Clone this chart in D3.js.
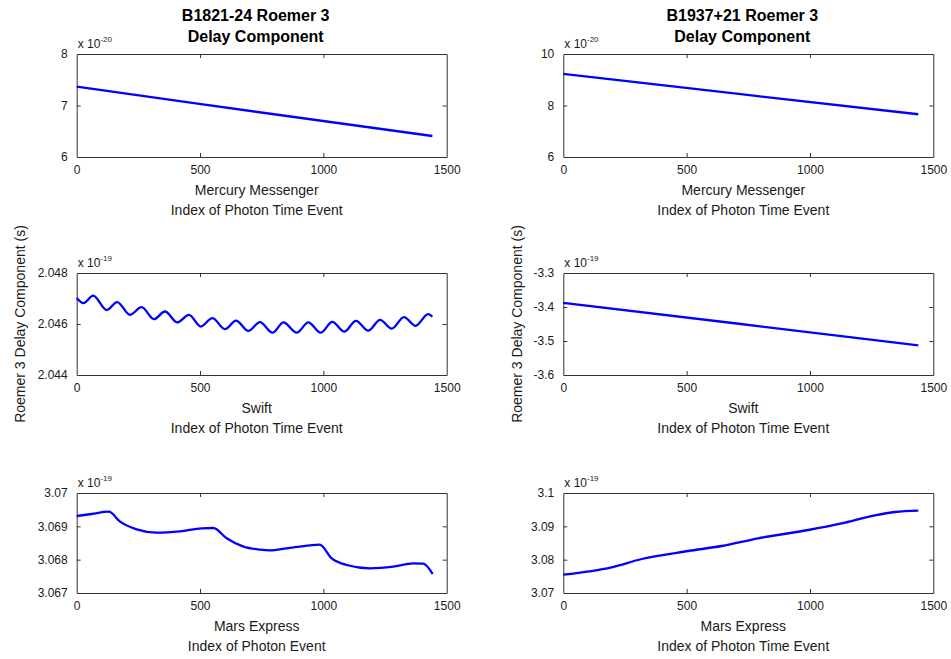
<!DOCTYPE html>
<html>
<head>
<meta charset="utf-8">
<script src="https://cdn.jsdelivr.net/npm/d3@7"></script>
<style>
  body { margin: 0; background: #fff; }
  svg { display: block; font-family: "Liberation Sans", Arial, sans-serif; }
  .tick text { font-size: 12px; fill: #1a1a1a; }
</style>
</head>
<body>
<svg width="951" height="659"></svg>
<script>
// x ticks shared by every panel
var xTicks = [0, 500, 1000, 1500];

// Mercury Messenger (x 1e-20)
var mercLeftIdx = [0, 497, 1442];
var mercLeftVal = [7.365, 7.03, 6.408];
var mercRightIdx = [0, 720, 1439];
var mercRightVal = [9.225, 8.44, 7.66];

// Swift (x 1e-19)
var swiftLeftIdx = [0, 27, 67, 122, 164, 216, 263, 313, 358, 408, 455, 503, 550, 601, 646, 696, 743,
    794, 838, 892, 939, 989, 1036, 1085, 1132, 1182, 1230, 1277, 1327, 1374, 1425, 1442];
var swiftLeftVal = [2.04702, 2.04682, 2.04711, 2.04655, 2.04686, 2.04636, 2.04666, 2.04619, 2.04649,
    2.04606, 2.04636, 2.04590, 2.04623, 2.04580, 2.04613, 2.04573, 2.04607, 2.04566, 2.04606,
    2.04566, 2.04606, 2.04566, 2.04608, 2.04570, 2.04612, 2.04574, 2.04616, 2.04582, 2.04627,
    2.04593, 2.04639, 2.04629];
var swiftRightIdx = [0, 720, 1439];
var swiftRightVal = [-3.388, -3.450, -3.513];

// Mars Express (x 1e-19)
var marsLeftIdx = [0, 60, 130, 176, 243, 324, 419, 507, 554, 608, 676, 743, 784, 851, 946, 985,
    1034, 1094, 1189, 1283, 1365, 1405, 1443];
var marsLeftVal = [3.06931, 3.06937, 3.06944, 3.06914, 3.06891, 3.06881, 3.06885, 3.06894, 3.06895,
    3.06864, 3.06839, 3.06830, 3.06828, 3.06834, 3.06843, 3.06845, 3.06804, 3.06784, 3.06774,
    3.06779, 3.06789, 3.06788, 3.06757];
var marsRightIdx = [0, 196, 318, 507, 642, 790, 993, 1128, 1263, 1345, 1439];
var marsRightVal = [3.0755, 3.0777, 3.0802, 3.0826, 3.0841, 3.0864, 3.0889, 3.0909, 3.0933, 3.0943, 3.0947];

// y ticks
var mercLeftTicks = [6, 7, 8];
var mercRightTicks = [6, 8, 10];
var swiftLeftTicks = [2.044, 2.046, 2.048];
var swiftRightTicks = [-3.6, -3.5, -3.4, -3.3];
var marsLeftTicks = [3.067, 3.068, 3.069, 3.07];
var marsRightTicks = [3.07, 3.08, 3.09, 3.1];

var titles = ['B1821-24 Roemer 3', 'B1937+21 Roemer 3'];
var yLabel = 'Roemer 3 Delay Component (s)';

var svg = d3.select('svg');
var colX = [76.7, 563.3];
var plotW = 370;
var rowY = [54, 273, 493];
var rowH = [103, 102, 100];

function zip(a, b) { return a.map(function(d, i) { return [d, b[i]]; }); }

var panels = [
  { col: 0, row: 0, data: zip(mercLeftIdx, mercLeftVal), ticks: mercLeftTicks, dom: [6, 8], exp: '-20',
    xl: ['Mercury Messenger', 'Index of Photon Time Event'] },
  { col: 1, row: 0, data: zip(mercRightIdx, mercRightVal), ticks: mercRightTicks, dom: [6, 10], exp: '-20',
    xl: ['Mercury Messenger', 'Index of Photon Time Event'] },
  { col: 0, row: 1, data: zip(swiftLeftIdx, swiftLeftVal), ticks: swiftLeftTicks, dom: [2.044, 2.048], exp: '-19',
    xl: ['Swift', 'Index of Photon Time Event'] },
  { col: 1, row: 1, data: zip(swiftRightIdx, swiftRightVal), ticks: swiftRightTicks, dom: [-3.6, -3.3], exp: '-19',
    xl: ['Swift', 'Index of Photon Time Event'] },
  { col: 0, row: 2, data: zip(marsLeftIdx, marsLeftVal), ticks: marsLeftTicks, dom: [3.067, 3.07], exp: '-19',
    xl: ['Mars Express', 'Index of Photon Event'] },
  { col: 1, row: 2, data: zip(marsRightIdx, marsRightVal), ticks: marsRightTicks, dom: [3.07, 3.1], exp: '-19',
    xl: ['Mars Express', 'Index of Photon Time Event'] }
];

panels.forEach(function(p) {
  var h = rowH[p.row];
  var g = svg.append('g')
    .attr('transform', 'translate(' + [colX[p.col], rowY[p.row]] + ')');

  var x = d3.scaleLinear().domain([0, 1500]).range([0, plotW]);
  var y = d3.scaleLinear().domain(p.dom).range([h, 0]);

  // box with inward ticks on all four sides
  g.append('g').attr('transform', 'translate(0,' + h + ')')
    .call(d3.axisBottom(x).tickValues(xTicks).tickSizeInner(-4).tickSizeOuter(0).tickPadding(8)
      .tickFormat(d3.format('d')));
  g.append('g')
    .call(d3.axisTop(x).tickValues(xTicks).tickSizeInner(-4).tickSizeOuter(0).tickFormat(''));
  g.append('g')
    .call(d3.axisLeft(y).tickValues(p.ticks).tickSizeInner(-4).tickSizeOuter(0).tickPadding(9)
      .tickFormat(function(d) { return String(+d.toFixed(4)); }));
  g.append('g').attr('transform', 'translate(' + plotW + ',0)')
    .call(d3.axisRight(y).tickValues(p.ticks).tickSizeInner(-4).tickSizeOuter(0).tickFormat(''));
  g.selectAll('.domain').attr('stroke', '#333');
  g.selectAll('.tick line').attr('stroke', '#333');
  g.selectAll('.tick').filter(function(d) { return d === 0 || d === 1500; }).select('line').remove();
  g.selectAll('.tick').filter(function(d) { return d === p.dom[0] || d === p.dom[1]; }).select('line').remove();

  g.append('path')
    .datum(p.data)
    .attr('fill', 'none')
    .attr('stroke', '#0000ff')
    .attr('stroke-width', 2.3)
    .attr('stroke-linejoin', 'round')
    .attr('d', d3.line()
      .x(function(d) { return x(d[0]); })
      .y(function(d) { return y(d[1]); })
      .curve(d3.curveMonotoneX));

  // exponent label
  var ex = g.append('text').attr('x', 1).attr('y', -6).attr('font-size', 12).attr('fill', '#1a1a1a');
  ex.append('tspan').text('x 10');
  ex.append('tspan').attr('font-size', 8).attr('dy', -6).text(p.exp);

  // x labels
  p.xl.forEach(function(t, i) {
    g.append('text')
      .attr('x', plotW / 2 - 5)
      .attr('y', h + 38 + i * 20)
      .attr('text-anchor', 'middle')
      .attr('font-size', 14)
      .attr('fill', '#1a1a1a')
      .text(t);
  });

  if (p.row === 0) {
    [titles[p.col], 'Delay Component'].forEach(function(t, i) {
      g.append('text')
        .attr('x', plotW / 2 - 6)
        .attr('y', -33 + i * 21)
        .attr('text-anchor', 'middle')
        .attr('font-size', 16)
        .attr('font-weight', 'bold')
        .attr('fill', '#000')
        .text(t);
    });
  }
});

// shared y labels
[20, 517].forEach(function(cx) {
  svg.append('text')
    .attr('transform', 'translate(' + cx + ',324) rotate(-90)')
    .attr('text-anchor', 'middle')
    .attr('dy', '0.35em')
    .attr('font-size', 14)
    .attr('fill', '#1a1a1a')
    .text(yLabel);
});
</script>
</body>
</html>
